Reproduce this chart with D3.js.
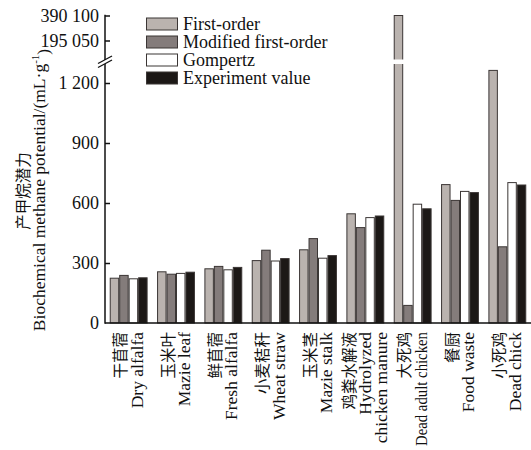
<!DOCTYPE html>
<html>
<head>
<meta charset="utf-8">
<script src="https://cdn.jsdelivr.net/npm/d3@7"></script>
<style>
  html, body { margin: 0; padding: 0; background: #fff; }
  svg { display: block; }
  .en { font-family: "Liberation Serif", "Times New Roman", serif; }
  .zh { font-family: "Noto Sans CJK SC", sans-serif; }
</style>
</head>
<body>
<svg id="chart" width="531" height="450"></svg>
<script>
// Substrates (Chinese name, English lines)
const categoriesZh = ["干苜蓿", "玉米叶", "鲜苜蓿", "小麦秸秆", "玉米茎", "鸡粪水解液", "大死鸡", "餐厨", "小死鸡"];
const categoriesEn = [
  ["Dry alfalfa"], ["Mazie leaf"], ["Fresh alfalfa"], ["Wheat straw"], ["Mazie stalk"],
  ["Hydrolyzed", "chicken manure"], ["Dead adult chicken"], ["Food waste"], ["Dead chick"]
];
const seriesNames = ["First-order", "Modified first-order", "Gompertz", "Experiment value"];

// Methane potential, mL·g⁻¹
const firstOrder = [224, 256, 271, 312, 366, 546, 390100, 692, 1263];
const modifiedFirstOrder = [238, 244, 283, 364, 422, 477, 88, 613, 381];
const gompertz = [221, 248, 266, 310, 324, 527, 594, 658, 702];
const experimentValue = [226, 254, 278, 322, 337, 535, 571, 652, 690];

// Axis ticks below and above the break
const lowerTicks = [0, 300, 600, 900, 1200];
const upperTicks = [195050, 390100];

const seriesValues = [firstOrder, modifiedFirstOrder, gompertz, experimentValue];
const seriesColors = ["#bab3af", "#847c7b", "#ffffff", "#1c1816"];

const svg = d3.select("#chart");
const axisX = 105, baseY = 323;

const fmt = d3.formatLocale({ decimal: ".", thousands: " ", grouping: [3], currency: ["", ""] }).format(",");

// Broken y scale: linear segment below 1 300, compressed segment above
const lowerMax = 1300;
const yLow = d3.scaleLinear().domain([0, lowerMax]).range([baseY, 63]);
const yUp = d3.scaleLinear().domain([0, 390100]).range([65.5, 15.5]);
const yVal = v => v <= lowerMax ? yLow(v) : yUp(v);

const x0 = d3.scaleBand().domain(d3.range(categoriesZh.length)).range([axisX, 531])
  .paddingInner(0.2).paddingOuter(0.1);
const x1 = d3.scaleBand().domain(d3.range(seriesNames.length)).range([0, x0.bandwidth()]);

// Bars
const bars = svg.append("g");
categoriesZh.forEach((c, i) => {
  seriesValues.forEach((vals, s) => {
    const v = vals[i];
    const top = yVal(v);
    bars.append("rect")
      .attr("x", x0(i) + x1(s) + 0.5)
      .attr("y", top)
      .attr("width", x1.bandwidth() - 1)
      .attr("height", baseY - top)
      .attr("fill", seriesColors[s])
      .attr("stroke", "#3b3635")
      .attr("stroke-width", 1);
    if (v > lowerMax) {
      // gap where the bar crosses the axis break
      bars.append("rect")
        .attr("x", x0(i) + x1(s) - 1)
        .attr("y", 59.5)
        .attr("width", x1.bandwidth() + 2)
        .attr("height", 4.5)
        .attr("fill", "#fff");
    }
  });
});

// Y axis line with break
const axisG = svg.append("g").attr("stroke", "#111").attr("stroke-width", 1.5);
axisG.append("line").attr("x1", axisX).attr("x2", axisX).attr("y1", baseY + 0.75).attr("y2", 64);
axisG.append("line").attr("x1", axisX).attr("x2", axisX).attr("y1", 60).attr("y2", yUp(390100) - 0.75);
axisG.append("line").attr("x1", 98).attr("y1", 63.5).attr("x2", 112).attr("y2", 56).attr("stroke-width", 1.3);
axisG.append("line").attr("x1", 98).attr("y1", 67.5).attr("x2", 112).attr("y2", 60).attr("stroke-width", 1.3);

// X axis line
svg.append("line").attr("x1", axisX).attr("x2", 531).attr("y1", baseY).attr("y2", baseY)
  .attr("stroke", "#111").attr("stroke-width", 1.5);

// Tick marks and labels via d3 axes
function styleAxis(g) {
  g.select(".domain").remove();
  g.selectAll(".tick line").attr("stroke", "#111").attr("stroke-width", 1.5);
  g.selectAll(".tick text").attr("class", "en").attr("font-size", 18).attr("fill", "#111");
}
svg.append("g").attr("transform", `translate(${axisX},0)`)
  .call(d3.axisLeft(yLow).tickValues(lowerTicks.filter(t => t > 0)).tickSize(-5).tickPadding(6).tickFormat(fmt))
  .call(styleAxis).attr("font-family", null);
svg.append("g").attr("transform", `translate(${axisX},0)`)
  .call(d3.axisLeft(yUp).tickValues(upperTicks).tickSize(-5).tickPadding(6).tickFormat(fmt))
  .call(styleAxis).attr("font-family", null);
svg.append("text").attr("class", "en").attr("x", axisX - 6).attr("y", yLow(0)).attr("dy", "0.32em")
  .attr("text-anchor", "end").attr("font-size", 18).attr("fill", "#111").text(fmt(lowerTicks[0]));

// Category labels, rotated, two or three lines each
categoriesZh.forEach((zh, i) => {
  const lines = [{ t: zh, zh: true }].concat(categoriesEn[i].map(t => ({ t, zh: false })));
  const cx = x0(i) + x0.bandwidth() / 2;
  const g = svg.append("g").attr("transform", `translate(${cx},332) rotate(-90)`);
  const n = lines.length, gap = 15.5;
  lines.forEach((ln, k) => {
    const off = (k - (n - 1) / 2) * gap;
    const t = g.append("text")
      .attr("class", ln.zh ? "zh" : "en")
      .attr("x", 0).attr("y", off).attr("dy", "0.35em")
      .attr("text-anchor", "end")
      .attr("font-size", ln.zh ? 15.5 : 17.5)
      .attr("fill", "#111")
      .text(ln.t);
    if (ln.t === "Dead adult chicken") t.attr("textLength", 114).attr("lengthAdjust", "spacingAndGlyphs");
  });
});

// Y axis title
svg.append("text").attr("class", "zh").attr("transform", "translate(24,191) rotate(-90)")
  .attr("text-anchor", "middle").attr("dy", "0.35em").attr("font-size", 15.5).attr("fill", "#111")
  .text("产甲烷潜力");
const yt = svg.append("text").attr("class", "en").attr("transform", "translate(39,190) rotate(-90)")
  .attr("text-anchor", "middle").attr("dy", "0.35em").attr("font-size", 17.5).attr("fill", "#111");
yt.append("tspan").text("Biochemical methane potential/(mL·g");
yt.append("tspan").attr("font-size", 11).attr("dy", "-0.55em").text("-1");
yt.append("tspan").attr("dy", "0.55em").text(")");

// Legend
const legend = svg.append("g");
seriesNames.forEach((name, s) => {
  const cy = 24 + s * 18;
  legend.append("rect").attr("x", 146.5).attr("y", cy - 6).attr("width", 31).attr("height", 12)
    .attr("fill", seriesColors[s]).attr("stroke", "#3b3635").attr("stroke-width", 1);
  legend.append("text").attr("class", "en").attr("x", 183).attr("y", cy).attr("dy", "0.33em")
    .attr("font-size", 18).attr("fill", "#111").text(name);
});
</script>
</body>
</html>
